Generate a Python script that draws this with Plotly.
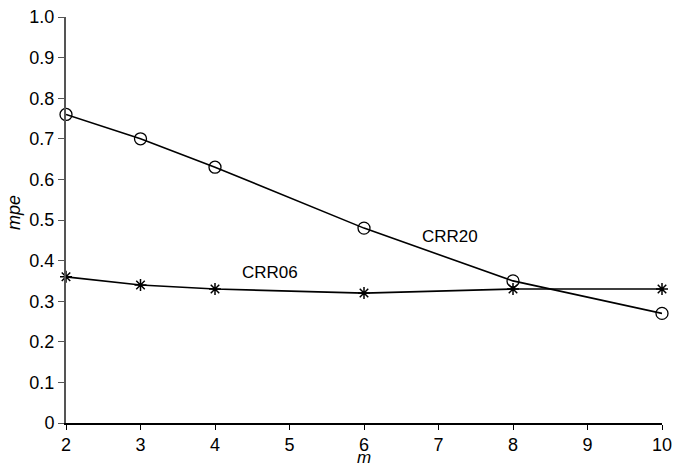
import plotly.graph_objects as go

m_values = [2, 3, 4, 6, 8, 10]
crr20 = [0.76, 0.70, 0.63, 0.48, 0.35, 0.27]
crr06 = [0.36, 0.34, 0.33, 0.32, 0.33, 0.33]
x_ticks = [2, 3, 4, 5, 6, 7, 8, 9, 10]
y_ticks = [0, 0.1, 0.2, 0.3, 0.4, 0.5, 0.6, 0.7, 0.8, 0.9, 1.0]
y_tick_text = ["0", "0.1", "0.2", "0.3", "0.4", "0.5", "0.6", "0.7", "0.8", "0.9", "1.0"]

W, H = 674, 466
L, R, T, B = 66, 12, 17, 43
PW, PH = W - L - R, H - T - B

fig = go.Figure()
fig.add_trace(go.Scatter(
    x=m_values, y=crr20, mode="lines+markers", name="CRR20",
    line=dict(color="black", width=1.6),
    marker=dict(symbol="circle-open", size=12, color="black", line=dict(width=1.3)),
    cliponaxis=False,
))
fig.add_trace(go.Scatter(
    x=m_values, y=crr06, mode="lines+markers", name="CRR06",
    line=dict(color="black", width=1.6),
    marker=dict(symbol="asterisk-open", size=10, color="black", line=dict(width=1.5)),
    cliponaxis=False,
))

fig.add_annotation(x=7.15, y=0.46, text="CRR20", showarrow=False,
                   font=dict(size=17, color="black"))
fig.add_annotation(x=4.74, y=0.37, text="CRR06", showarrow=False,
                   font=dict(size=17, color="black"))
# axis titles
fig.add_annotation(x=0.5, y=-(457 - (T + PH)) / PH, xref="paper", yref="paper",
                   text="<i>m</i>", showarrow=False, yanchor="middle",
                   font=dict(size=17, color="black"))
fig.add_annotation(x=(14 - L) / PW, y=1 - (213 - T) / PH, xref="paper", yref="paper",
                   text="<i>mpe</i>", showarrow=False, textangle=-90,
                   xanchor="center", yanchor="middle",
                   font=dict(size=18, color="black"))

fig.update_layout(
    width=W, height=H,
    margin=dict(l=L, r=R, t=T, b=B, autoexpand=False),
    paper_bgcolor="white", plot_bgcolor="white",
    showlegend=False,
    font=dict(family="Liberation Sans, Arial, sans-serif", size=18, color="black"),
    xaxis=dict(
        range=[2, 10], tickvals=x_ticks, ticks="outside", ticklen=5,
        tickcolor="black", showline=True, linecolor="black", linewidth=1.5,
        showgrid=False, zeroline=False, automargin=False,
        ticklabeloverflow="allow",
    ),
    yaxis=dict(
        range=[0, 1.0], tickvals=y_ticks, ticktext=y_tick_text,
        ticks="outside", ticklen=6, tickcolor="#555",
        showline=True, linecolor="#555", linewidth=2,
        showgrid=False, zeroline=False, automargin=False,
        ticklabeloverflow="allow",
    ),
)

fig.write_html(
    "out.html",
    config={"displayModeBar": False},
    post_script="document.body.style.margin='0';document.body.style.overflow='hidden';",
)
